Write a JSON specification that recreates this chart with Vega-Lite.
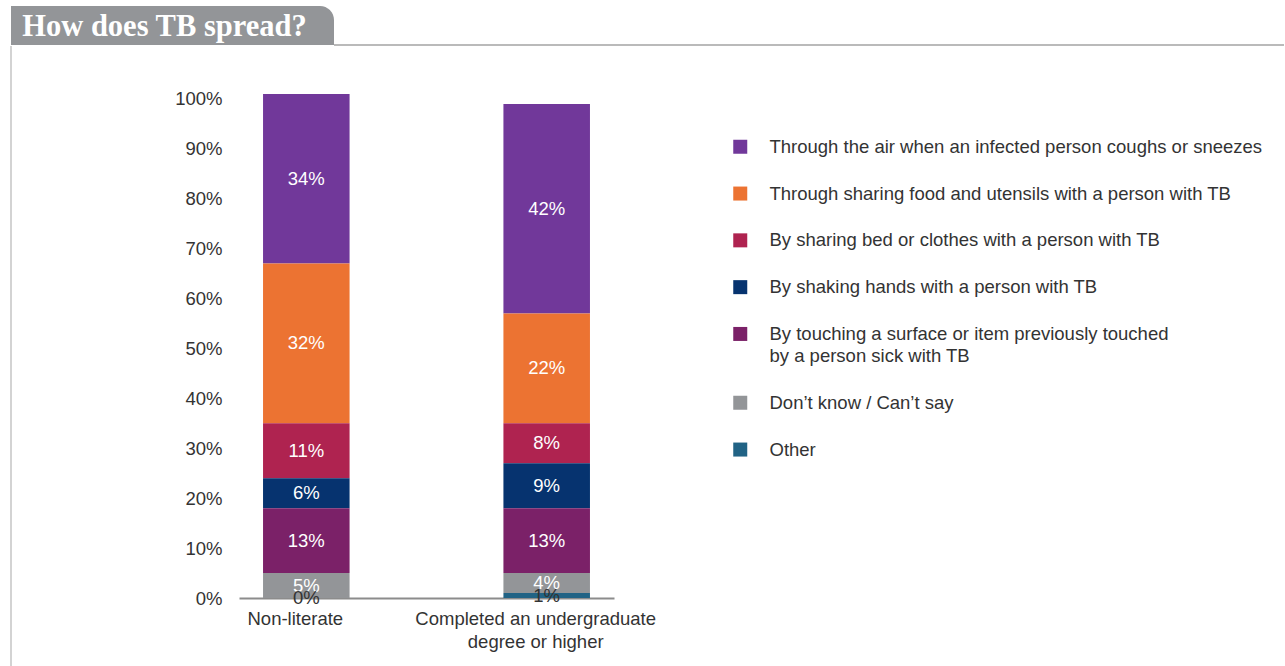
{
  "$schema": "https://vega.github.io/schema/vega-lite/v6.json",
  "padding": {"left": 10, "top": 6, "right": 0, "bottom": 0},
  "background": "white",
  "config": {
    "view": {"stroke": null},
    "font": "Liberation Sans"
  },
  "datasets": {
    "spread": [
      {"edu": "Non-literate", "cause": "Through the air when an infected person coughs or sneezes", "pct": 34},
      {"edu": "Non-literate", "cause": "Through sharing food and utensils with a person with TB", "pct": 32},
      {"edu": "Non-literate", "cause": "By sharing bed or clothes with a person with TB", "pct": 11},
      {"edu": "Non-literate", "cause": "By shaking hands with a person with TB", "pct": 6},
      {"edu": "Non-literate", "cause": "By touching a surface or item previously touched by a person sick with TB", "pct": 13},
      {"edu": "Non-literate", "cause": "Don’t know / Can’t say", "pct": 5},
      {"edu": "Non-literate", "cause": "Other", "pct": 0},
      {"edu": "Completed an undergraduate degree or higher", "cause": "Through the air when an infected person coughs or sneezes", "pct": 42},
      {"edu": "Completed an undergraduate degree or higher", "cause": "Through sharing food and utensils with a person with TB", "pct": 22},
      {"edu": "Completed an undergraduate degree or higher", "cause": "By sharing bed or clothes with a person with TB", "pct": 8},
      {"edu": "Completed an undergraduate degree or higher", "cause": "By shaking hands with a person with TB", "pct": 9},
      {"edu": "Completed an undergraduate degree or higher", "cause": "By touching a surface or item previously touched by a person sick with TB", "pct": 13},
      {"edu": "Completed an undergraduate degree or higher", "cause": "Don’t know / Can’t say", "pct": 4},
      {"edu": "Completed an undergraduate degree or higher", "cause": "Other", "pct": 1}
    ],
    "heading": [{"t": "How does TB spread?"}],
    "frame": [{"k": 0}]
  },
  "spacing": -3,
  "vconcat": [
    {
      "spacing": 0,
      "bounds": "flush",
      "hconcat": [
        {
          "width": 323,
          "height": 39,
          "data": {"name": "heading"},
          "layer": [
            {
              "mark": {"type": "rect", "color": "#939598", "cornerRadiusTopRight": 14},
              "encoding": {}
            },
            {
              "mark": {"type": "text", "font": "Liberation Serif", "fontWeight": "bold", "fontSize": 30.5, "color": "white", "dx": -8, "dy": 1.5, "baseline": "middle"},
              "encoding": {"text": {"field": "t"}}
            }
          ]
        },
        {
          "width": 950,
          "height": 39,
          "data": {"name": "frame"},
          "mark": {"type": "rule", "color": "#a3a3a3", "strokeWidth": 1.5},
          "encoding": {"y": {"datum": 0, "scale": {"domain": [0, 1]}, "axis": null}}
        }
      ]
    },
    {
      "spacing": 227,
      "bounds": "flush",
      "hconcat": [
        {
          "width": 1,
          "height": 620,
          "data": {"name": "frame"},
          "mark": {"type": "rule", "color": "#c4c4c4", "strokeWidth": 1.5},
          "encoding": {"x": {"datum": 0, "scale": {"domain": [0, 1]}, "axis": null}}
        },
        {
          "width": 375,
          "height": 552,
          "data": {"name": "spread"},
          "transform": [
            {"calculate": "indexof(['Other', 'Don’t know / Can’t say', 'By touching a surface or item previously touched by a person sick with TB', 'By shaking hands with a person with TB', 'By sharing bed or clothes with a person with TB', 'Through sharing food and utensils with a person with TB', 'Through the air when an infected person coughs or sneezes'], datum.cause)", "as": "rank"},
            {"stack": "pct", "groupby": ["edu"], "sort": [{"field": "rank", "order": "ascending"}], "as": ["lo", "hi"]},
            {"calculate": "(datum.lo + datum.hi) / 2", "as": "mid"},
            {"calculate": "datum.pct + '%'", "as": "lbl"}
          ],
          "encoding": {
            "x": {
              "field": "edu",
              "type": "nominal",
              "sort": null,
              "scale": {"domain": ["Non-literate", "Completed an undergraduate degree or higher"], "paddingInner": 0.64, "paddingOuter": 0.1},
              "axis": {
                "title": null,
                "labelAngle": 0,
                "ticks": false,
                "tickSize": 0,
                "domainColor": "#8c8c8c",
                "domainWidth": 2,
                "labelFontSize": 18.5,
                "labelColor": "#333333",
                "labelPadding": 11,
                "labelOffset": -11,
                "labelLimit": 400,
                "labelLineHeight": 23,
                "labelExpr": "datum.value == 'Completed an undergraduate degree or higher' ? ['Completed an undergraduate', 'degree or higher'] : datum.label"
              }
            }
          },
          "layer": [
            {
              "mark": {"type": "bar"},
              "encoding": {
                "y": {
                  "field": "lo",
                  "type": "quantitative",
                  "scale": {"domain": [0, 110.6], "nice": false},
                  "axis": {
                    "title": null,
                    "values": [0, 10, 20, 30, 40, 50, 60, 70, 80, 90, 100],
                    "labelExpr": "datum.value + '%'",
                    "domain": false,
                    "ticks": false,
                    "tickSize": 0,
                    "grid": false,
                    "labelPadding": 17,
                    "labelFontSize": 18.5,
                    "labelColor": "#333333"
                  }
                },
                "y2": {"field": "hi"},
                "color": {
                  "field": "cause",
                  "type": "nominal",
                  "scale": {
                    "domain": [
                      "Through the air when an infected person coughs or sneezes",
                      "Through sharing food and utensils with a person with TB",
                      "By sharing bed or clothes with a person with TB",
                      "By shaking hands with a person with TB",
                      "By touching a surface or item previously touched by a person sick with TB",
                      "Don’t know / Can’t say",
                      "Other"
                    ],
                    "range": ["#71389A", "#EC7332", "#AF2350", "#06336F", "#7B2168", "#939598", "#216385"]
                  },
                  "legend": {
                    "orient": "none",
                    "legendX": 720,
                    "legendY": 131.5,
                    "title": null,
                    "symbolType": "square",
                    "symbolSize": 196,
                    "symbolStrokeWidth": 0,
                    "labelFontSize": 18.5,
                    "labelColor": "#333333",
                    "labelOffset": 20,
                    "labelLimit": 700,
                    "rowPadding": 27.8,
                    "labelExpr": "datum.value == 'By touching a surface or item previously touched by a person sick with TB' ? ['By touching a surface or item previously touched', 'by a person sick with TB'] : datum.label",
                    "encode": {"labels": {"update": {"lineHeight": {"value": 22}}}}
                  }
                }
              }
            },
            {
              "mark": {"type": "text", "fontSize": 18.5},
              "encoding": {
                "y": {"field": "mid", "type": "quantitative"},
                "text": {"field": "lbl"},
                "color": {"condition": {"test": "datum.pct < 3", "value": "#333333"}, "value": "white"}
              }
            }
          ]
        }
      ]
    }
  ]
}
